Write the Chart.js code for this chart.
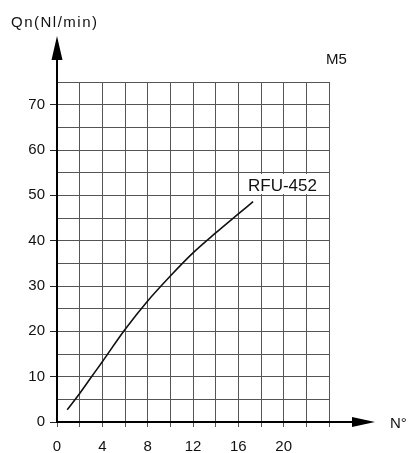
<!DOCTYPE html>
<html>
<head>
<meta charset="utf-8">
<script src="https://cdn.jsdelivr.net/npm/chart.js@4/dist/chart.umd.min.js"></script>
<style>
  html, body { margin: 0; padding: 0; background: #fff; }
  #wrap { width: 408px; height: 453px; position: relative; }
</style>
</head>
<body>
<div id="wrap"><canvas id="flowChart"></canvas></div>
<script>
// Qn vs N° (turns) for RFU-452, M5
const turns = [0.9, 2, 3, 4, 6, 8, 10, 12, 14, 16, 17.3];
const flow = [2.7, 6.3, 9.8, 13.3, 20.4, 26.7, 32.2, 37.3, 41.7, 45.9, 48.6];
const xLabelTicks = [0, 4, 8, 12, 16, 20];
const yLabelTicks = [0, 10, 20, 30, 40, 50, 60, 70];
const seriesName = 'RFU-452';
const yTitle = 'Qn(Nl/min)';
const xTitle = 'N°';
const modelName = 'M5';

const gridColor = '#555';
const fontFamily = '"Liberation Sans", Arial, sans-serif';

const decorations = {
    id: 'decorations',
    afterDraw(chart) {
        const ctx = chart.ctx;
        const area = chart.chartArea;
        ctx.save();
        ctx.fillStyle = '#000';
        ctx.strokeStyle = '#000';
        ctx.lineWidth = 2;
        // y axis extension + arrow
        ctx.beginPath();
        ctx.moveTo(area.left, area.top);
        ctx.lineTo(area.left, 56);
        ctx.stroke();
        ctx.beginPath();
        ctx.moveTo(area.left, 36);
        ctx.lineTo(area.left - 5.5, 60);
        ctx.lineTo(area.left + 5.5, 60);
        ctx.closePath();
        ctx.fill();
        // x axis extension + arrow
        ctx.beginPath();
        ctx.moveTo(area.right, area.bottom);
        ctx.lineTo(356, area.bottom);
        ctx.stroke();
        ctx.beginPath();
        ctx.moveTo(375, area.bottom);
        ctx.lineTo(352, area.bottom - 5);
        ctx.lineTo(352, area.bottom + 5);
        ctx.closePath();
        ctx.fill();

        // series label with white box
        ctx.fillStyle = '#fff';
        ctx.fillRect(241, 174, 85, 20);
        ctx.fillStyle = '#111';
        ctx.font = '17px ' + fontFamily;
        ctx.textBaseline = 'alphabetic';
        ctx.fillText(seriesName, 248, 191);

        ctx.font = '15px ' + fontFamily;
        ctx.letterSpacing = '1.5px';
        ctx.fillText(yTitle, 11, 27);
        ctx.letterSpacing = '0px';
        ctx.fillText(modelName, 326, 63.5);
        ctx.fillText(xTitle, 390, 427.5);
        ctx.restore();
    }
};

new Chart(document.getElementById('flowChart'), {
    type: 'line',
    data: {
        datasets: [{
            label: seriesName,
            data: turns.map((t, i) => ({ x: t, y: flow[i] })),
            borderColor: '#111',
            borderWidth: 1.6,
            pointRadius: 0,
            tension: 0.35,
            fill: false
        }]
    },
    options: {
        responsive: true,
        maintainAspectRatio: false,
        animation: false,
        layout: { padding: { left: 0, top: 82, right: 79, bottom: 0 } },
        plugins: {
            legend: { display: false },
            tooltip: { enabled: false }
        },
        scales: {
            x: {
                type: 'linear',
                min: 0,
                max: 24,
                afterFit(scale) { scale.height = 31; },
                ticks: {
                    stepSize: 2,
                    padding: 11,
                    color: '#111',
                    font: { family: fontFamily, size: 15 },
                    maxRotation: 0,
                    autoSkip: false,
                    callback: v => xLabelTicks.includes(v) ? v : ''
                },
                grid: {
                    color: ctx => ctx.tick && ctx.tick.value === 0 ? 'rgba(0,0,0,0)' : gridColor,
                    lineWidth: 1,
                    tickLength: 5,
                    tickColor: gridColor
                },
                border: { color: '#000', width: 2 }
            },
            y: {
                min: 0,
                max: 75,
                afterFit(scale) { scale.width = 57; },
                ticks: {
                    stepSize: 5,
                    padding: 5,
                    color: '#111',
                    font: { family: fontFamily, size: 15 },
                    autoSkip: false,
                    callback: v => yLabelTicks.includes(v) ? v : ''
                },
                grid: {
                    color: ctx => ctx.tick && ctx.tick.value === 0 ? 'rgba(0,0,0,0)' : gridColor,
                    lineWidth: 1,
                    tickLength: 7,
                    tickColor: ctx => ctx.tick && yLabelTicks.includes(ctx.tick.value) ? '#222' : 'rgba(0,0,0,0)'
                },
                border: { color: '#000', width: 2 }
            }
        }
    },
    plugins: [decorations]
});
</script>
</body>
</html>
